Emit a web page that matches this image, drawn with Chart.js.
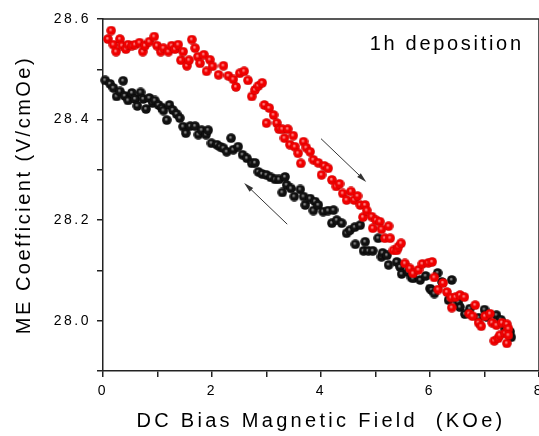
<!DOCTYPE html>
<html lang="en">
<head>
<meta charset="UTF-8" />
<title>ME Coefficient vs DC Bias</title>
<script src="https://cdn.jsdelivr.net/npm/chart.js"></script>
<style>
  body { margin: 0; background: #fff; }
  #wrap { width: 539px; height: 436px; }
</style>
</head>
<body>
<div id="wrap"><canvas id="meChart" width="539" height="436"></canvas></div>
<script>
// field sweep up (red)
const upField = [0.09,0.15,0.19,0.24,0.31,0.35,0.42,0.46,0.53,0.59,
  0.67,0.73,0.77,0.85,0.94,0.99,1.06,1.11,1.20,1.26,
  1.32,1.38,1.43,1.47,1.54,1.58,1.63,1.69,1.74,1.78,
  1.85,1.90,1.96,2.01,2.12,2.21,2.30,2.39,2.44,2.51,
  2.59,2.66,2.73,2.79,2.85,2.92,2.96,3.00,3.05,3.13,
  3.19,3.23,3.29,3.33,3.39,3.43,3.49,3.52,3.58,3.63,
  3.68,3.73,3.80,3.86,3.95,4.01,4.06,4.13,4.20,4.28,
  4.34,4.40,4.47,4.55,4.61,4.67,4.72,4.77,4.81,4.84,
  4.93,4.95,5.01,5.08,5.11,5.17,5.24,5.27,5.33,5.39,
  5.42,5.47,5.54,5.63,5.69,5.79,5.86,5.97,6.04,6.08,
  6.15,6.24,6.31,6.39,6.40,6.47,6.55,6.63,6.72,6.78,
  6.83,6.89,6.94,7.01,7.10,7.14,7.18,7.22,7.25,7.28,
  7.32,7.38,7.41,7.41,7.44,7.44];
const upCoef = [28.560,28.577,28.549,28.535,28.560,28.547,28.540,28.549,28.547,28.549,
  28.553,28.535,28.547,28.555,28.565,28.547,28.535,28.542,28.535,28.547,
  28.540,28.549,28.518,28.535,28.507,28.518,28.559,28.542,28.525,28.512,
  28.529,28.496,28.519,28.506,28.489,28.507,28.487,28.480,28.465,28.492,
  28.496,28.478,28.446,28.459,28.467,28.473,28.429,28.393,28.423,28.409,
  28.393,28.381,28.381,28.363,28.381,28.350,28.368,28.346,28.333,28.313,
  28.356,28.344,28.336,28.320,28.314,28.290,28.308,28.303,28.280,28.267,
  28.272,28.253,28.240,28.257,28.240,28.248,28.230,28.206,28.230,28.219,
  28.207,28.184,28.200,28.197,28.182,28.164,28.188,28.164,28.140,28.140,
  28.147,28.154,28.114,28.104,28.094,28.101,28.113,28.115,28.117,28.086,
  28.062,28.075,28.057,28.046,28.026,28.047,28.051,28.047,28.014,28.009,
  28.031,27.996,27.989,28.009,28.014,27.996,27.960,27.991,27.965,27.971,
  27.996,27.975,27.993,27.955,27.984,27.971];

// field sweep down (black)
const downField = [0.04,0.13,0.19,0.25,0.31,0.37,0.40,0.46,0.53,0.59,
  0.63,0.69,0.74,0.79,0.85,0.91,0.95,1.02,1.08,1.11,
  1.17,1.22,1.28,1.35,1.41,1.47,1.52,1.60,1.69,1.75,
  1.81,1.89,1.93,1.99,2.09,2.15,2.21,2.27,2.35,2.39,
  2.48,2.56,2.64,2.73,2.79,2.85,2.92,3.00,3.08,3.16,
  3.23,3.29,3.34,3.37,3.45,3.51,3.62,3.68,3.71,3.80,
  3.86,3.89,3.95,4.04,4.13,4.20,4.23,4.29,4.38,4.47,
  4.53,4.62,4.63,4.72,4.78,4.81,4.87,4.95,5.05,5.11,
  5.13,5.21,5.24,5.39,5.45,5.48,5.60,5.66,5.69,5.82,
  5.92,6.00,6.03,6.08,6.14,6.22,6.34,6.40,6.52,6.55,
  6.64,6.73,6.89,7.00,7.04,7.22,7.30,7.38,7.47,7.49];
const downCoef = [28.478,28.471,28.463,28.446,28.456,28.477,28.447,28.438,28.453,28.441,
  28.427,28.454,28.441,28.421,28.443,28.433,28.438,28.429,28.423,28.418,
  28.399,28.429,28.419,28.411,28.403,28.386,28.373,28.387,28.387,28.370,
  28.379,28.370,28.379,28.353,28.350,28.346,28.343,28.336,28.363,28.340,
  28.346,28.330,28.323,28.313,28.314,28.296,28.292,28.290,28.285,28.281,
  28.281,28.255,28.286,28.270,28.263,28.247,28.261,28.247,28.230,28.243,
  28.219,28.237,28.230,28.217,28.219,28.194,28.220,28.200,28.194,28.174,
  28.180,28.186,28.152,28.190,28.139,28.157,28.139,28.139,28.164,28.127,
  28.135,28.130,28.111,28.117,28.107,28.093,28.097,28.086,28.084,28.081,
  28.089,28.064,28.061,28.054,28.095,28.077,28.041,28.081,28.037,28.027,
  28.013,28.024,28.006,28.022,28.008,28.011,28.002,27.984,27.978,27.967];

const xTickLabels = ['0', '2', '4', '6', '8'];
const yTickLabels = ['28.0', '28.2', '28.4', '28.6'];
const panelLabel = '1h deposition';
// sweep direction arrows: [fromX, fromY, toX, toY] in data units
const arrows = [[4.00, 28.362, 4.83, 28.276], [3.38, 28.192, 2.59, 28.274]];

const FONT = '"Liberation Sans", Arial, sans-serif';

// shaded ball marker like the original plot
function ball(base, light, dark) {
  const c = document.createElement('canvas');
  c.width = 10; c.height = 10;
  const g = c.getContext('2d');
  const grad = g.createRadialGradient(4.2, 4, 0.3, 5, 5, 5);
  grad.addColorStop(0, light);
  grad.addColorStop(0.35, base);
  grad.addColorStop(0.8, base);
  grad.addColorStop(1, dark);
  g.fillStyle = grad;
  g.beginPath();
  g.arc(5, 5, 4.8, 0, Math.PI * 2);
  g.fill();
  return c;
}

function drawArrow(ctx, x1, y1, x2, y2) {
  const ang = Math.atan2(y2 - y1, x2 - x1);
  const len = 10, half = 2.6;
  ctx.beginPath();
  ctx.moveTo(x1, y1);
  ctx.lineTo(x2 - Math.cos(ang) * len * 0.6, y2 - Math.sin(ang) * len * 0.6);
  ctx.stroke();
  ctx.beginPath();
  ctx.moveTo(x2, y2);
  ctx.lineTo(x2 - Math.cos(ang) * len - Math.sin(ang) * half, y2 - Math.sin(ang) * len + Math.cos(ang) * half);
  ctx.lineTo(x2 - Math.cos(ang) * len + Math.sin(ang) * half, y2 - Math.sin(ang) * len - Math.cos(ang) * half);
  ctx.closePath();
  ctx.fill();
}

const decor = {
  id: 'decor',
  beforeUpdate(chart) { chart.ctx.letterSpacing = '2.5px'; },
  afterLayout(chart) {
    // x title is spaced a little wider than the rest
    const sx = chart.scales.x;
    if (sx && !sx._wideTitle) {
      const orig = sx.drawTitle;
      sx.drawTitle = function () {
        const prev = this.ctx.letterSpacing;
        this.ctx.letterSpacing = '3.3px';
        orig.apply(this, arguments);
        this.ctx.letterSpacing = prev;
      };
      sx._wideTitle = true;
    }
  },
  beforeDraw(chart) { chart.ctx.letterSpacing = '2.5px'; },
  afterDraw(chart) {
    const { ctx, chartArea: a, scales: { x, y } } = chart;
    ctx.save();
    // box frame (top + right)
    ctx.strokeStyle = '#222';
    ctx.lineWidth = 1.5;
    ctx.beginPath();
    ctx.moveTo(a.left, a.top);
    ctx.lineTo(a.right, a.top);
    ctx.lineTo(a.right, a.bottom);
    ctx.stroke();

    ctx.strokeStyle = '#333';
    ctx.fillStyle = '#333';
    ctx.lineWidth = 1;
    arrows.forEach(r => drawArrow(ctx, x.getPixelForValue(r[0]), y.getPixelForValue(r[1]),
      x.getPixelForValue(r[2]), y.getPixelForValue(r[3])));

    ctx.font = '20px ' + FONT;
    ctx.letterSpacing = '2.7px';
    ctx.fillStyle = '#000';
    ctx.textAlign = 'right';
    ctx.textBaseline = 'middle';
    ctx.fillText(panelLabel, x.getPixelForValue(7.72), y.getPixelForValue(28.549));
    ctx.restore();
  }
};

const ctx = document.getElementById('meChart').getContext('2d');
const meChart = new Chart(ctx, {
  type: 'scatter',
  data: {
    datasets: [
      {
        label: 'up',
        data: upField.map((v, i) => ({ x: v, y: upCoef[i] })),
        pointStyle: ball('#f00000', '#ff9a9a', '#b00000'),
        clip: false
      },
      {
        label: 'down',
        data: downField.map((v, i) => ({ x: v, y: downCoef[i] })),
        pointStyle: ball('#111', '#9a9a9a', '#000'),
        clip: false
      }
    ]
  },
  options: {
    responsive: false,
    animation: false,
    devicePixelRatio: 1,
    // plot box runs right up to the canvas edge
    layout: { autoPadding: false, padding: { top: 19, right: 0, left: 0, bottom: 0 } },
    plugins: { legend: { display: false }, tooltip: { enabled: false } },
    scales: {
      x: {
        type: 'linear',
        min: 0,
        max: 8,
        border: { color: '#222', width: 1.5 },
        grid: { drawOnChartArea: false, tickLength: 6, color: '#222', lineWidth: 1.5 },
        ticks: {
          stepSize: 1,
          autoSkip: false,
          maxRotation: 0,
          padding: 6,
          color: '#000',
          font: { family: FONT, size: 14 },
          callback: v => xTickLabels.includes(String(v)) ? String(v) : ''
        },
        title: {
          display: true,
          text: 'DC Bias Magnetic Field  (KOe)',
          color: '#000',
          font: { family: FONT, size: 20 },
          padding: { top: 0, bottom: 3 }
        },
        afterFit: s => { s.height = 65; s.paddingLeft = 0; s.paddingRight = 0; }
      },
      y: {
        type: 'linear',
        min: 27.9,
        max: 28.6,
        border: { color: '#222', width: 1.5 },
        grid: { drawOnChartArea: false, tickLength: 6, color: '#222', lineWidth: 1.5 },
        ticks: {
          stepSize: 0.1,
          autoSkip: false,
          padding: 6,
          color: '#000',
          font: { family: FONT, size: 14 },
          callback: v => {
            const s = v.toFixed(1);
            return yTickLabels.includes(s) ? s : '';
          }
        },
        title: {
          display: true,
          text: 'ME Coefficient (V/cmOe)',
          color: '#000',
          font: { family: FONT, size: 20 },
          padding: { top: 12, bottom: 0 }
        },
        afterFit: s => { s.width = 103; s.paddingTop = 0; s.paddingBottom = 0; }
      }
    }
  },
  plugins: [decor]
});
</script>
</body>
</html>
